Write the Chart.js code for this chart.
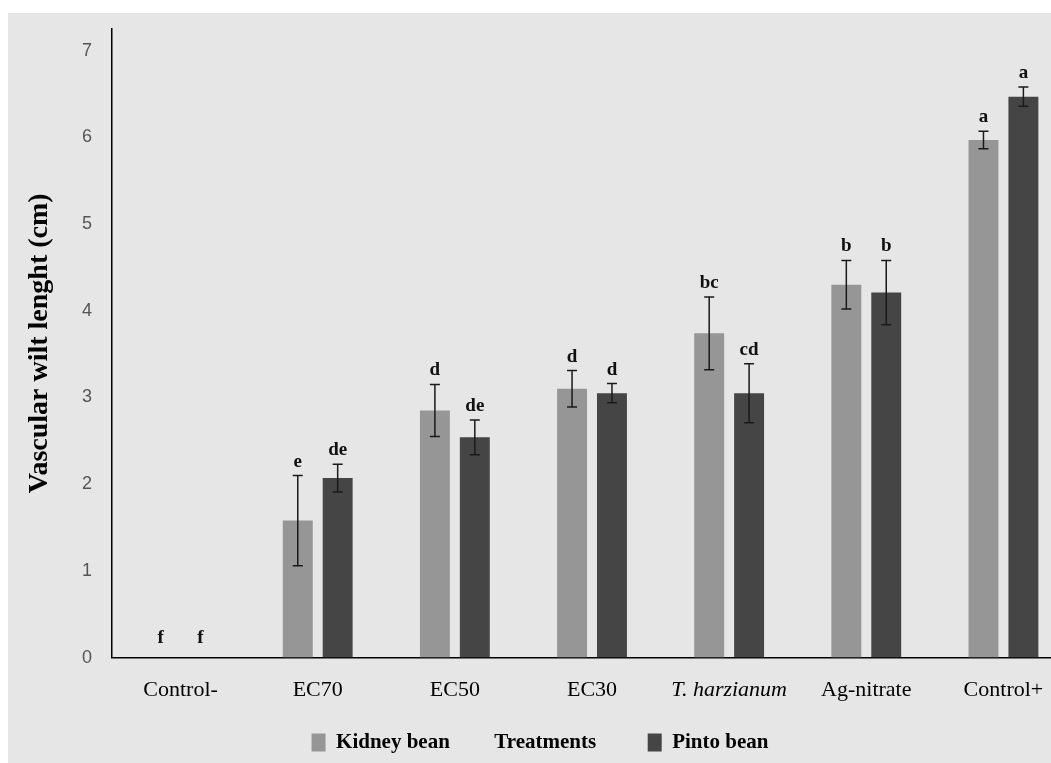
<!DOCTYPE html>
<html>
<head>
    <title>Vascular wilt length</title>
    <script src="https://cdn.jsdelivr.net/npm/chart.js"></script>
    <style>
        body { margin: 0; background: #fff; overflow: hidden; }
        #panel { position: absolute; left: 8px; top: 13px; width: 1080px; height: 750px; background: #e6e6e6; }
    </style>
</head>
<body>
    <div id="panel">
        <canvas id="wiltChart" width="1080" height="750"></canvas>
    </div>

    <script>
        // Data
        const treatments = ['Control-', 'EC70', 'EC50', 'EC30', 'T. harzianum', 'Ag-nitrate', 'Control+'];
        const kidneyBean = [0, 1.58, 2.85, 3.10, 3.74, 4.30, 5.97];
        const pintoBean = [0, 2.07, 2.54, 3.05, 3.05, 4.21, 6.47];
        const kidneyErr = [0, 0.52, 0.30, 0.21, 0.42, 0.28, 0.10];
        const pintoErr = [0, 0.16, 0.20, 0.11, 0.34, 0.37, 0.11];
        const kidneyLetters = ['f', 'e', 'd', 'd', 'bc', 'b', 'a'];
        const pintoLetters = ['f', 'de', 'de', 'd', 'cd', 'b', 'a'];
        const yTicks = [0, 1, 2, 3, 4, 5, 6, 7];

        const kidneyColor = '#969696';
        const pintoColor = '#454545';
        const serif = "'Liberation Serif', 'Times New Roman', serif";

        // error bars + significance letters
        const errorBars = {
            id: 'errorBars',
            afterDatasetsDraw(chart) {
                const ctx = chart.ctx;
                const y = chart.scales.y;
                const sets = [
                    { vals: kidneyBean, err: kidneyErr, letters: kidneyLetters },
                    { vals: pintoBean, err: pintoErr, letters: pintoLetters }
                ];
                ctx.save();
                sets.forEach((s, di) => {
                    const meta = chart.getDatasetMeta(di);
                    meta.data.forEach((bar, i) => {
                        const top = y.getPixelForValue(s.vals[i] + s.err[i]);
                        const bot = y.getPixelForValue(s.vals[i] - s.err[i]);
                        if (s.err[i] > 0) {
                            ctx.strokeStyle = '#1a1a1a';
                            ctx.lineWidth = 1.5;
                            ctx.beginPath();
                            ctx.moveTo(bar.x, top); ctx.lineTo(bar.x, bot);
                            ctx.moveTo(bar.x - 5, top); ctx.lineTo(bar.x + 5, top);
                            ctx.moveTo(bar.x - 5, bot); ctx.lineTo(bar.x + 5, bot);
                            ctx.stroke();
                        }
                        ctx.fillStyle = '#111';
                        ctx.font = 'bold 19px ' + serif;
                        ctx.textAlign = 'center';
                        ctx.textBaseline = 'alphabetic';
                        ctx.fillText(s.letters[i], bar.x, top - (s.err[i] > 0 ? 9 : 15));
                    });
                });
                ctx.restore();
            }
        };

        new Chart(document.getElementById('wiltChart'), {
            type: 'bar',
            data: {
                labels: treatments,
                datasets: [{
                    label: 'Kidney bean',
                    data: kidneyBean,
                    backgroundColor: kidneyColor,
                    categoryPercentage: 0.582,
                    barPercentage: 0.75
                }, {
                    label: 'Pinto bean',
                    data: pintoBean,
                    backgroundColor: pintoColor,
                    categoryPercentage: 0.582,
                    barPercentage: 0.75
                }]
            },
            options: {
                responsive: false,
                animation: false,
                layout: { padding: { top: 16, right: 16, left: 0, bottom: 0 } },
                plugins: {
                    tooltip: { enabled: false },
                    legend: {
                        position: 'bottom',
                        labels: {
                            boxWidth: 14,
                            boxHeight: 18,
                            padding: 20,
                            font: { family: serif, size: 21, weight: 'bold' },
                            color: '#000',
                            generateLabels: () => [
                                { text: 'Kidney bean', fillStyle: kidneyColor, strokeStyle: kidneyColor, lineWidth: 0, fontColor: '#000', datasetIndex: 0 },
                                { text: 'Treatments      ', fillStyle: 'rgba(0,0,0,0)', strokeStyle: 'rgba(0,0,0,0)', lineWidth: 0, fontColor: '#000' },
                                { text: 'Pinto bean', fillStyle: pintoColor, strokeStyle: pintoColor, lineWidth: 0, fontColor: '#000', datasetIndex: 1 }
                            ]
                        }
                    }
                },
                scales: {
                    x: {
                        afterFit: (s) => { s.height -= 10; },
                        grid: { display: false, drawTicks: false },
                        border: { display: true, color: '#000', width: 1.5 },
                        ticks: {
                            padding: 19,
                            color: '#000',
                            maxRotation: 0,
                            font: (c) => ({ family: serif, size: 22, style: c.index === 4 ? 'italic' : 'normal' })
                        }
                    },
                    y: {
                        min: 0,
                        max: 7.25,
                        afterFit: (s) => { s.width = 104; s.paddingTop = 0; s.paddingBottom = 0; },
                        afterBuildTicks: (s) => { s.ticks = yTicks.map(v => ({ value: v })).concat([{ value: 7.25 }]); },
                        grid: { display: false, drawTicks: false },
                        border: { display: true, color: '#000', width: 1.5 },
                        ticks: {
                            padding: 20,
                            color: '#555',
                            font: { family: "'Liberation Sans', Arial, sans-serif", size: 18 },
                            callback: (v) => Number.isInteger(v) ? v : null
                        },
                        title: {
                            display: true,
                            text: 'Vascular wilt lenght (cm)',
                            color: '#000',
                            font: { family: serif, size: 28, weight: 'bold' },
                            padding: { top: 15, bottom: 0 }
                        }
                    }
                }
            },
            plugins: [errorBars]
        });
    </script>
</body>
</html>
